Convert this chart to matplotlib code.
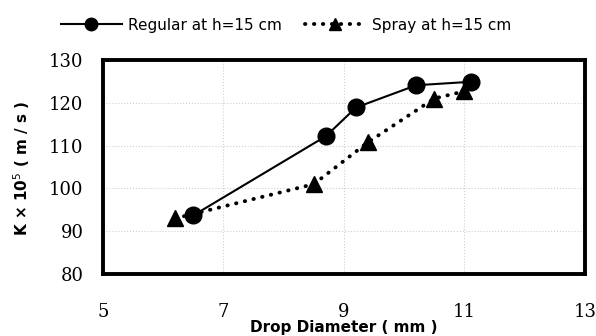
import matplotlib.pyplot as plt

# Datos
d_regular = [6.5, 8.7, 9.2, 10.2, 11.1]
k_regular = [93.7, 112.2, 118.9, 124.1, 124.9]
d_spray = [6.2, 8.5, 9.4, 10.5, 11.0]
k_spray = [93.0, 101.0, 110.8, 121.0, 122.7]

x_ticks = [5, 7, 9, 11, 13]
y_ticks = [80, 90, 100, 110, 120, 130]

fig = plt.figure(figsize=(5.96, 3.36), dpi=100)
ax = fig.add_axes([0.1728, 0.1845, 0.8087, 0.637])

ax.plot(d_regular, k_regular, '-', color='black', lw=1.5, marker='o', ms=12,
        label='Regular at h=15 cm')
ax.plot(d_spray, k_spray, color='black', lw=2.8, dashes=(0.1, 2.2),
        dash_capstyle='round', marker='^', ms=11, label='Spray at h=15 cm')

ax.set_xlim(5, 13)
ax.set_ylim(80, 130)
ax.set_xticks(x_ticks)
ax.set_yticks(y_ticks)
ax.grid(True, color='#d0d0d0', ls=':', lw=0.8)
ax.tick_params(length=0, labelsize=13, pad=21)
ax.tick_params(axis='y', pad=14)
for lbl in ax.get_xticklabels() + ax.get_yticklabels():
    lbl.set_family('DejaVu Serif')
for s in ax.spines.values():
    s.set_linewidth(2.8)

fig.text(0.576, 0.003, 'Drop Diameter ( mm )', ha='center', va='bottom',
         fontsize=11, fontweight='bold')
fig.text(0.037, 0.50, 'K × 10$^5$ ( m / s )', ha='center', va='center',
         rotation=90, fontsize=11, fontweight='bold')

fig.legend(loc='center', bbox_to_anchor=(0.48, 0.925), ncol=2, frameon=False,
           fontsize=11, handlelength=4, columnspacing=1.5, handletextpad=0.4,
           markerscale=0.75)

fig.savefig('out.png', dpi=100)
